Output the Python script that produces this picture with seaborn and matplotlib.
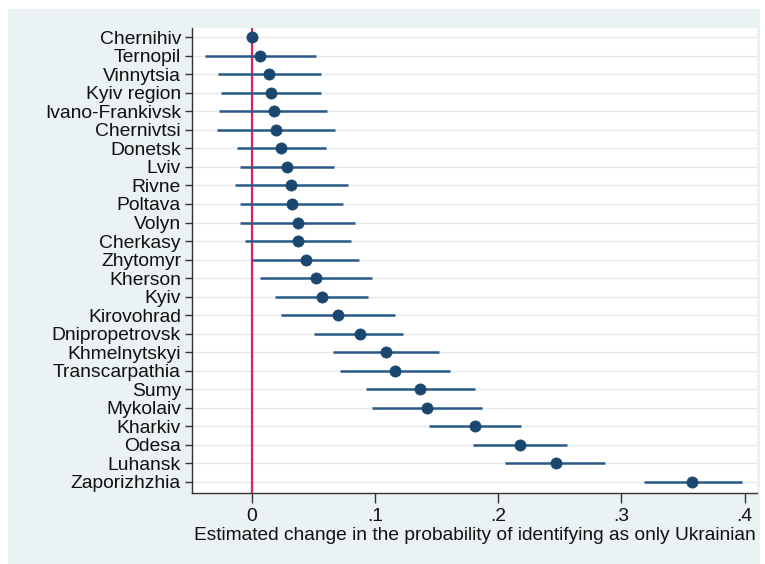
import matplotlib
matplotlib.use("Agg")
import matplotlib.pyplot as plt
import seaborn as sns
import pandas as pd
import numpy as np
from matplotlib.patches import Rectangle

regions = ["Chernihiv", "Ternopil", "Vinnytsia", "Kyiv region", "Ivano-Frankivsk",
           "Chernivtsi", "Donetsk", "Lviv", "Rivne", "Poltava", "Volyn", "Cherkasy",
           "Zhytomyr", "Kherson", "Kyiv", "Kirovohrad", "Dnipropetrovsk", "Khmelnytskyi",
           "Transcarpathia", "Sumy", "Mykolaiv", "Kharkiv", "Odesa", "Luhansk", "Zaporizhzhia"]
estimate = [0.000, 0.007, 0.0145, 0.0155, 0.018, 0.020, 0.024, 0.0285, 0.032, 0.0326,
            0.0375, 0.038, 0.044, 0.0523, 0.057, 0.0703, 0.088, 0.109, 0.116, 0.137,
            0.142, 0.1815, 0.218, 0.2467, 0.357]
ci_low = [0.000, -0.038, -0.027, -0.025, -0.026, -0.028, -0.0115, -0.0095, -0.0134, -0.0093,
          -0.0093, -0.005, 0.0006, 0.0069, 0.019, 0.024, 0.0507, 0.066, 0.072, 0.093,
          0.0977, 0.144, 0.180, 0.2055, 0.318]
ci_high = [0.000, 0.052, 0.056, 0.056, 0.061, 0.068, 0.060, 0.067, 0.078, 0.074,
           0.084, 0.081, 0.0874, 0.098, 0.0947, 0.116, 0.123, 0.152, 0.161, 0.181,
           0.187, 0.2185, 0.256, 0.287, 0.398]
xticks = [0, 0.1, 0.2, 0.3, 0.4]
xticklabels = ["0", ".1", ".2", ".3", ".4"]
xlabel = "Estimated change in the probability of identifying as only Ukrainian"

df = pd.DataFrame({"region": regions, "estimate": estimate,
                   "lo": ci_low, "hi": ci_high})

sns.set_style("white")
plt.rcParams["font.family"] = ["Liberation Sans", "DejaVu Sans"]

fig = plt.figure(figsize=(7.65, 5.64), dpi=100)
fig.patch.set_facecolor("white")
bg = Rectangle((8 / 765, 0), (760 - 8) / 765, (564 - 9) / 564,
               transform=fig.transFigure, facecolor="#eaf2f3",
               edgecolor="none", zorder=-10)
fig.add_artist(bg)
ax = fig.add_axes([192 / 765, (564 - 493) / 564, (757 - 192) / 765, (493 - 28) / 564])
ax.set_zorder(1)
ax.set_facecolor("white")

navy = "#1a476f"
pos = np.arange(len(regions))
for p in pos:
    ax.axhline(p, color="#e6e9ea", lw=1.0, zorder=0)

ax.hlines(pos, df["lo"], df["hi"], color="#2a5a88", lw=1.8, zorder=2)
sns.scatterplot(data=df, x="estimate", y="region", ax=ax, color=navy, s=65,
                edgecolor=navy, linewidth=0.5, zorder=3, legend=False)
ax.axvline(0, color="#e0205a", lw=1.6, zorder=1)

ax.set_ylim(len(regions) - 1 + 0.6, -0.5)
ax.set_xlim(-0.0483, 0.410)
ax.set_xticks(xticks)
ax.set_xticklabels(xticklabels)
ax.set_yticks(pos)
ax.set_yticklabels(regions)
ax.set_ylabel("")
ax.set_xlabel(xlabel, fontsize=13.75, labelpad=1, color="#111111")
ax.tick_params(axis="y", labelsize=13.9, length=5, width=1, color="#333333",
               pad=3, labelcolor="#111111", left=True)
ax.tick_params(axis="x", labelsize=13.9, length=7, width=1, color="#333333",
               pad=4, labelcolor="#111111", bottom=True)
for s in ["top", "right"]:
    ax.spines[s].set_visible(False)
for s in ["left", "bottom"]:
    ax.spines[s].set_color("#333333")
    ax.spines[s].set_linewidth(1.0)

fig.savefig("out.png", dpi=100, facecolor=fig.get_facecolor())
